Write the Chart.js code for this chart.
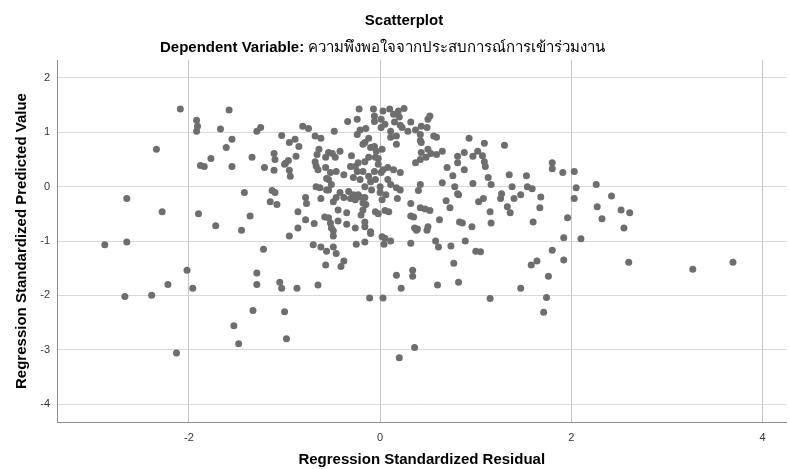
<!DOCTYPE html>
<html>
<head>
<meta charset="utf-8">
<script src="https://cdn.jsdelivr.net/npm/chart.js@4.4.1/dist/chart.umd.min.js"></script>
<style>
html,body{margin:0;padding:0;background:#fff;}
#wrap{width:790px;height:469px;position:relative;}
</style>
</head>
<body>
<div id="wrap"><canvas id="c" width="790" height="469"></canvas></div>
<script>
const chartTitle = "Scatterplot";
const subtitleLabel = "Dependent Variable: ";
const subtitleVar = "ความพึงพอใจจากประสบการณ์การเข้าร่วมงาน";
const xAxisTitle = "Regression Standardized Residual";
const yAxisTitle = "Regression Standardized Predicted Value";
const xTicks = [-2, 0, 2, 4];
const yTicks = [-4, -3, -2, -1, 0, 1, 2];

// Regression standardized residual (x) and predicted value (y)
const residual = [
-2.09,-1.92,-1.91,-1.92,-2.34,-2.65,-2.28,-1.90,-2.88,-2.65,-2.02,-2.22,-1.96,-2.67,-2.39,-2.13,-1.88,-1.84,
-1.58,-1.67,-1.55,-1.61,-1.77,-1.55,-1.34,-1.29,-1.25,-1.03,-1.11,-1.10,-1.21,-1.11,-0.99,-0.96,-0.95,-0.94,
-0.95,-0.89,-0.85,-0.88,-0.81,-0.75,-0.68,-0.62,-0.64,-0.66,-0.68,-0.65,-0.57,-0.57,-0.56,-0.67,-0.63,-0.56,
-1.13,-1.10,-1.42,-1.15,-1.08,-0.78,-0.77,-0.62,-0.86,-1.36,-0.78,-0.69,-0.58,-1.72,-1.45,-0.86,-0.95,-0.70,
-0.62,-1.22,-0.57,-1.29,-0.56,
-1.29,-1.05,-1.03,-0.87,-0.65,-1.33,-1.00,-1.53,-1.48,-0.98,-0.49,-0.49,-0.49,-0.46,-0.38,-0.41,-0.25,-0.16,
-0.10,0.02,0.05,0.11,0.04,-0.11,0.03,0.32,0.17,0.22,0.34,0.34,0.36,0.20,0.58,0.61,0.74,0.77,0.60,0.82,0.89,
1.00,0.38,0.49,
1.30,1.80,1.80,1.91,2.03,1.35,1.53,1.38,1.54,1.59,1.27,1.26,1.40,1.47,1.68,2.05,2.03,2.26,2.42,1.33,1.36,1.67,
1.60,1.96,2.27,2.52,2.61,2.32,2.55,1.92,2.10,1.80,1.58,1.64,1.92,2.60,3.27,3.69,1.76,1.47,1.74,1.71,
1.09,0.93,1.13,1.16,1.08,1.03,1.15,1.16,1.05,
-0.22,-0.34,-0.24,-0.07,-0.06,-0.06,-0.48,-0.24,-0.21,-0.15,-0.12,-0.16,-1.00,-0.50,-0.47,-0.30,-0.18,-0.10,
-0.06,-0.04,-0.12,-0.05,-0.16,-0.52,-0.46,-0.38,-0.31,-0.26,-0.23,-0.24,-0.18,-0.12,-0.06,-0.28,-0.21,-0.10,
-0.05,-0.54,-0.51,-0.54,-0.42,-0.33,-0.28,-0.23,-0.16,-0.09,0.00,-0.46,-0.38,-0.67,-0.54,-0.42,
0.03,0.10,0.19,0.25,0.01,0.05,0.01,0.14,0.20,0.15,0.21,0.23,0.11,0.17,0.11,0.17,0.32,0.29,0.37,0.42,0.50,0.49,
0.43,0.42,0.56,0.59,0.02,-0.02,0.43,0.50,0.53,0.48,0.42,0.37,0.59,0.65,0.81,0.81,0.88,0.97,1.02,1.07,1.09,1.10,
0.70,0.76,0.88,-0.02,0.03,0.01,0.08,0.14,0.21,0.08,0.11,0.17,0.21,0.42,0.40,0.65,0.78,0.81,0.97,0.00,0.06,
0.43,0.52,
-0.49,-0.31,-0.26,-0.21,-0.16,-0.18,-0.15,-0.05,-0.02,-0.54,-0.52,-0.44,-0.35,-0.44,-0.35,-0.18,-0.20,-0.16,
-0.16,-0.26,-0.51,-0.10,
0.02,0.18,0.05,0.09,0.32,0.32,0.35,0.42,0.47,0.52,0.36,0.39,0.50,0.62,0.69,0.73,0.82,0.83,0.86,0.96,1.15
];
const predicted = [
1.43,1.22,1.11,1.02,0.69,-0.22,-0.46,-0.50,-1.07,-1.02,-1.54,-1.80,-1.87,-2.02,-2.00,-3.06,0.39,0.37,
1.41,1.06,0.87,0.72,0.52,0.37,0.54,1.02,1.09,0.94,0.61,0.50,0.35,0.30,0.43,0.48,0.30,0.19,
0.81,0.87,0.74,0.56,1.11,1.07,0.93,0.89,0.69,0.59,0.46,0.31,0.54,0.35,0.15,0.00,-0.02,-0.06,
-0.07,-0.11,-0.11,-0.28,-0.33,-0.20,-0.31,-0.22,-0.46,-0.54,-0.61,-0.68,-0.56,-0.72,-0.80,-0.76,-0.91,-1.07,
-1.11,-1.15,-1.44,-1.59,-1.19,
-1.80,-1.76,-1.87,-1.87,-1.81,-2.28,-2.30,-2.56,-2.89,-2.80,-0.81,-0.91,-1.11,-1.23,-1.37,-1.47,-1.06,-1.02,
-0.86,-0.92,-0.95,-1.00,-1.06,-2.05,-2.05,-1.04,-1.63,-1.87,-1.54,-1.65,-2.96,-3.15,-1.00,-1.11,-1.09,-1.41,-1.81,-1.76,-1.00,
-1.19,-0.80,-0.80,
0.76,0.44,0.33,0.26,0.28,0.22,0.20,0.00,0.00,-0.04,-0.13,-0.22,-0.22,-0.15,-0.19,-0.02,-0.22,0.04,-0.17,-0.37,-0.48,-0.39,
-0.65,-0.57,-0.37,-0.43,-0.48,-0.59,-0.76,-0.94,-0.96,-1.17,-1.44,-1.37,-1.35,-1.39,-1.52,-1.39,-1.65,-1.87,-2.04,-2.31,
0.80,0.89,0.17,0.04,-0.22,-0.28,-0.46,-0.67,-1.20,
1.43,1.20,1.24,1.43,1.30,1.20,1.02,0.96,1.04,1.07,0.89,0.81,0.41,0.61,0.54,0.57,0.78,0.72,
0.74,0.65,0.54,0.54,0.46,0.26,0.28,0.22,0.37,0.37,0.44,0.28,0.28,0.19,0.28,0.17,0.13,0.09,
0.13,0.13,0.04,-0.06,-0.11,-0.09,-0.15,-0.15,0.00,-0.06,0.00,-0.20,-0.20,0.38,0.63,0.65,
1.39,1.43,1.39,1.44,1.24,1.15,1.09,1.33,1.28,1.19,1.13,1.09,1.02,0.93,0.91,0.78,1.19,1.02,1.04,0.96,1.24,1.09,
0.81,0.85,0.93,0.91,0.69,0.52,0.63,0.69,0.61,0.54,0.50,0.44,0.59,0.65,0.56,0.44,0.63,0.56,0.65,0.57,0.46,0.37,
0.35,0.20,0.31,0.41,0.31,0.26,0.35,0.31,0.26,0.13,0.04,-0.02,-0.06,0.04,-0.07,0.07,0.00,-0.13,0.06,-0.11,-0.15,
1.11,1.30,
-0.28,-0.22,-0.24,-0.19,-0.20,-0.30,-0.33,-0.46,-0.50,-0.57,-0.67,-0.43,-0.48,-0.63,-0.69,-0.43,-0.52,-0.65,
-0.74,-0.76,-0.76,-0.83,
-0.24,-0.22,-0.44,-0.46,-0.31,-0.54,-0.56,-0.39,-0.41,-0.44,-0.76,-0.78,-0.74,-0.61,-0.26,-0.39,-0.15,-0.65,-0.67,-0.74,-2.06
];

const points = residual.map((x, i) => ({ x: x, y: predicted[i] }));

const FONT = '"Liberation Sans", Arial, sans-serif';

const titlePlugin = {
  id: 'spssTitles',
  afterDraw(chart) {
    const ctx = chart.ctx;
    ctx.save();
    ctx.fillStyle = '#000';
    ctx.textBaseline = 'middle';
    ctx.textAlign = 'center';
    ctx.font = 'bold 15px ' + FONT;
    ctx.fillText(chartTitle, 404, 21);
    ctx.textAlign = 'left';
    ctx.font = 'bold 15px ' + FONT;
    const w1 = ctx.measureText(subtitleLabel).width;
    const startX = 160;
    ctx.fillText(subtitleLabel, startX, 48);
    ctx.font = '15px ' + FONT;
    ctx.fillText(subtitleVar, startX + w1, 48);
    ctx.restore();
  }
};

new Chart(document.getElementById('c'), {
  type: 'scatter',
  data: {
    datasets: [{
      data: points,
      backgroundColor: '#6e6e6e',
      borderWidth: 0,
      pointRadius: 3.5,
      pointHoverRadius: 3.5
    }]
  },
  options: {
    responsive: false,
    animation: false,
    devicePixelRatio: 1,
    layout: { padding: { top: 60, left: 0, right: 0, bottom: 0 } },
    plugins: {
      legend: { display: false },
      tooltip: { enabled: false },
      title: { display: false }
    },
    scales: {
      x: {
        type: 'linear',
        min: -3.38,
        max: 4.25,
        afterBuildTicks: s => { s.ticks = xTicks.map(v => ({ value: v })); },
        afterFit: s => { s.height = 47; },
        grid: { color: '#c4c4c4', drawTicks: false },
        border: { color: '#8f8f8f', width: 1 },
        ticks: { padding: 9, color: '#333', font: { family: FONT, size: 11 } },
        title: { display: true, text: xAxisTitle, color: '#000', font: { family: FONT, size: 15, weight: 'bold' }, padding: { top: 0, bottom: 0 } }
      },
      y: {
        type: 'linear',
        min: -4.33,
        max: 2.33,
        afterBuildTicks: s => { s.ticks = yTicks.map(v => ({ value: v })); },
        afterFit: s => { s.width = 57; },
        grid: { color: '#d8d8d8', drawTicks: false },
        border: { color: '#8f8f8f', width: 1 },
        ticks: { padding: 7, color: '#333', font: { family: FONT, size: 11 } },
        title: { display: true, text: yAxisTitle, color: '#000', font: { family: FONT, size: 15, weight: 'bold' }, padding: { top: 13, bottom: 0 } }
      }
    }
  },
  plugins: [titlePlugin]
});
</script>
</body>
</html>
